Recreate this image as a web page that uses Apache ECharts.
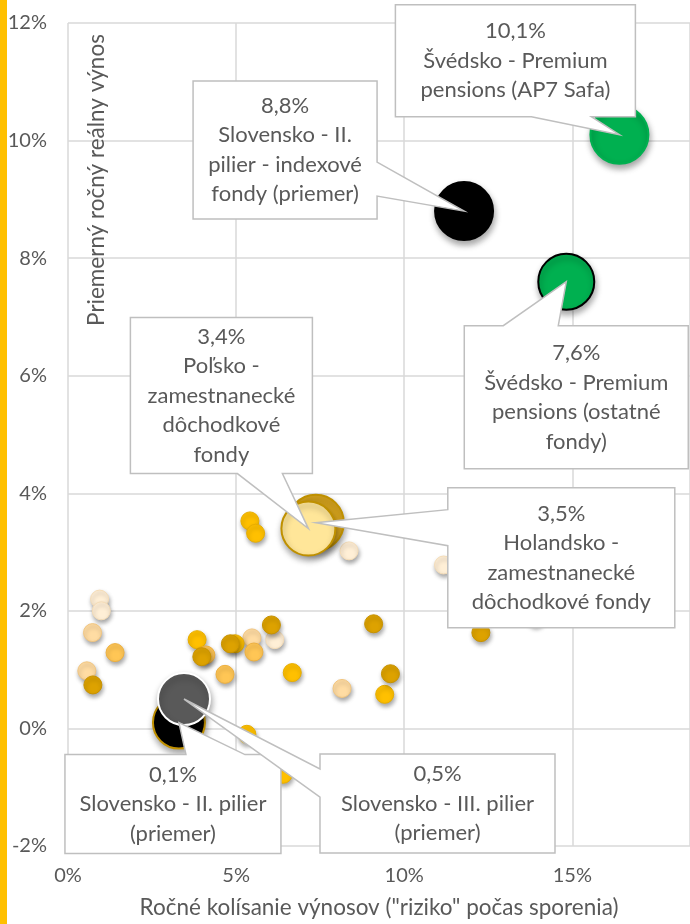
<!DOCTYPE html>
<html>
<head>
<meta charset="utf-8">
<script src="https://cdn.jsdelivr.net/npm/echarts@6/dist/echarts.min.js"></script>
<style>
  html, body { margin: 0; padding: 0; background: #fff; }
  #main { width: 690px; height: 924px; }
</style>
</head>
<body>
<div id="main"></div>
<script>
// small fund points, grouped by shade (risk %, real return %)
const paleFunds = [[0.94, 2.2], [0.99, 2.0], [6.15, 1.51], [8.36, 3.02], [11.17, 2.78], [13.9, 1.9]];
const peachFunds = [[0.73, 1.63], [0.56, 0.98], [5.47, 1.54], [8.15, 0.68]];
const goldFunds = [[5.41, 3.53], [5.58, 3.32], [3.84, 1.51], [4.97, 1.44], [6.67, 0.95], [9.42, 0.58], [5.32, -0.1], [6.4, -0.78]];
const orangeFunds = [[1.4, 1.29], [4.1, 1.25], [4.67, 0.92], [5.53, 1.3]];
const darkFunds = [[0.74, 0.74], [3.98, 1.22], [4.83, 1.44], [6.05, 1.76], [9.09, 1.78], [9.59, 0.93], [12.28, 1.63]];

// highlighted funds
const fundNames = [
  'Holandsko -\nzamestnanecké\ndôchodkové fondy',
  'Poľsko -\nzamestnanecké\ndôchodkové\nfondy',
  'Slovensko - II. pilier\n(priemer)',
  'Slovensko - III. pilier\n(priemer)',
  'Slovensko - II.\npilier - indexové\nfondy (priemer)',
  'Švédsko - Premium\npensions (ostatné\nfondy)',
  'Švédsko - Premium\npensions (AP7 Safa)'
];
const fundRisk = [7.37, 7.15, 3.3, 3.45, 11.78, 14.82, 16.4];
const fundReturn = [3.5, 3.4, 0.1, 0.5, 8.8, 7.6, 10.1];

const xTicks = [0, 5, 10, 15];

// styles of the big bubbles
const fundStyles = [
  {color: '#D6A41E', borderColor: '#BF9000', size: 56},
  {color: '#FFE699', borderColor: '#BF9000', size: 54},
  {color: '#000000', borderColor: '#C09000', size: 52},
  {color: '#595959', borderColor: '#FFFFFF', size: 52},
  {color: '#000000', borderColor: '#000000', size: 58},
  {color: '#00B050', borderColor: '#000000', size: 56},
  {color: '#00B050', borderColor: '#00B050', size: 58}
];
// callout box: offset from bubble, size, wedge side and wedge base
const calloutBoxes = [
  [132, -35, 227, 140, 'left', 22, 58],
  [-178, -211, 182, 156, 'bottom', 107, 152],
  [-114, 32, 216, 99, 'top', 121, 180],
  [136, 55, 235, 99, 'left', 15, 43],
  [-271, -130, 184, 138, 'right', 81, 115],
  [-102, 44, 224, 143, 'top', 39, 94],
  [-224, -130, 240, 112, 'bottom', 136, 196]
];

const FONT = 'Lato';
const GREY = '#595959';

const myChart = echarts.init(document.getElementById('main'));

const shadow = {opacity: 1, shadowBlur: 4, shadowOffsetX: 1, shadowOffsetY: 3, shadowColor: 'rgba(0,0,0,0.35)'};

function smallSeries(data, color, border) {
  return {
    type: 'scatter',
    data: data,
    symbolSize: 18,
    itemStyle: Object.assign({color: color, borderColor: border, borderWidth: 1}, shadow),
    silent: true
  };
}

const series = [
  smallSeries(paleFunds, '#FFEFD6', '#F5DDB8'),
  smallSeries(peachFunds, '#FFDCA3', '#F2C680'),
  smallSeries(goldFunds, '#FFC000', '#E8AE00'),
  smallSeries(orangeFunds, '#FFC655', '#EDB040'),
  smallSeries(darkFunds, '#DDA200', '#C89200')
];

fundRisk.forEach((x, i) => {
  const s = fundStyles[i];
  series.push({
    type: 'scatter',
    data: [[x, fundReturn[i]]],
    symbolSize: s.size,
    itemStyle: Object.assign({color: s.color, borderColor: s.borderColor, borderWidth: 2}, shadow, {shadowBlur: 6, shadowOffsetY: 4}),
    silent: true
  });
});

series.push({
  type: 'custom',
  data: fundRisk.map((x, i) => [x, fundReturn[i], i]),
  encode: {x: 0, y: 1},
  clip: false,
  z: 10,
  silent: true,
  renderItem: function (params, api) {
    const i = api.value(2);
    const p = api.coord([api.value(0), api.value(1)]);
    const [dx, dy, w, h, side, a, b] = calloutBoxes[i];
    const l = p[0] + dx, t = p[1] + dy, r = l + w, bt = t + h;
    const pts = [[l, t]];
    if (side === 'top') pts.push([l + a, t], p, [l + b, t]);
    pts.push([r, t]);
    if (side === 'right') pts.push([r, t + a], p, [r, t + b]);
    pts.push([r, bt]);
    if (side === 'bottom') pts.push([l + b, bt], p, [l + a, bt]);
    pts.push([l, bt]);
    if (side === 'left') pts.push([l, t + b], p, [l, t + a]);
    const txt = fundReturn[i].toFixed(1).replace('.', ',') + '%\n' + fundNames[i];
    return {
      type: 'group',
      children: [
        {type: 'polygon', shape: {points: pts}, style: {fill: '#fff', stroke: '#BFBFBF', lineWidth: 1.5}},
        {type: 'text', style: {
          x: (l + r) / 2, y: (t + bt) / 2, text: txt, fill: GREY,
          fontFamily: FONT, fontSize: 22, lineHeight: 29.5,
          align: 'center', verticalAlign: 'middle'
        }}
      ]
    };
  }
});

const option = {
  animation: false,
  backgroundColor: '#fff',
  grid: {left: 68, top: 23, width: 633, height: 826},
  xAxis: {
    type: 'value', min: 0, max: 18.5, interval: 5,
    axisLine: {show: false}, axisTick: {show: false},
    splitLine: {lineStyle: {color: '#D9D9D9', width: 1.5}},
    axisLabel: {
      formatter: v => xTicks.includes(v) ? v + '%' : '',
      showMaxLabel: false, color: GREY, fontSize: 20, fontFamily: FONT, margin: 20
    },
    name: 'Ročné kolísanie výnosov ("riziko" počas sporenia)',
    nameLocation: 'middle', nameGap: 50,
    nameTextStyle: {color: GREY, fontSize: 22.5, fontFamily: FONT}
  },
  yAxis: {
    type: 'value', min: -2, max: 12, interval: 2,
    axisLine: {show: false}, axisTick: {show: false},
    splitLine: {lineStyle: {color: '#D9D9D9', width: 1.5}},
    axisLabel: {formatter: v => v + '%', color: GREY, fontSize: 20, fontFamily: FONT, margin: 21}
  },
  graphic: [
    {type: 'rect', left: 0, top: 0, shape: {width: 7, height: 924}, style: {fill: '#FFC000'}},
    {type: 'text', x: 97, y: 180, rotation: Math.PI / 2, z: 5,
      style: {text: 'Priemerný ročný reálny výnos', fill: GREY, fontSize: 22.5, fontFamily: FONT,
        align: 'center', verticalAlign: 'middle'}}
  ],
  series: series
};

myChart.setOption(option);
</script>
</body>
</html>
